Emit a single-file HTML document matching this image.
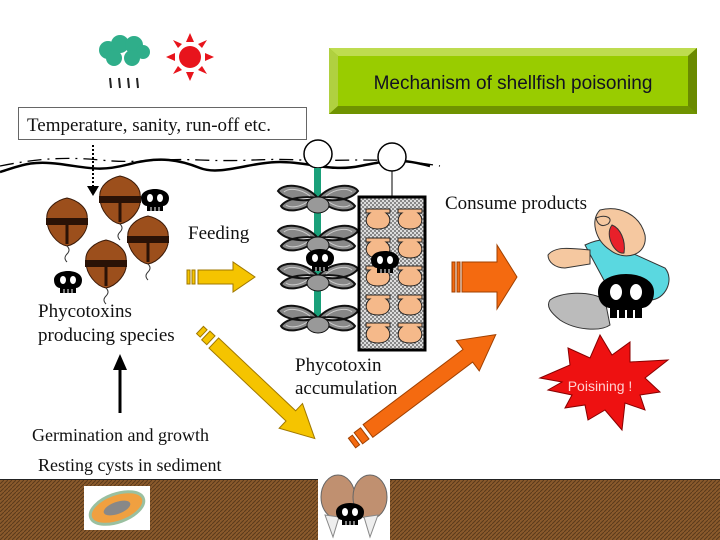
<!DOCTYPE html>
<html><head><meta charset="utf-8"><style>
html,body{margin:0;padding:0;background:#fff;}
svg{display:block;}
.s{font-family:"Liberation Serif",serif;fill:#111;}
</style></head><body>
<svg width="720" height="540" viewBox="0 0 720 540" xmlns="http://www.w3.org/2000/svg">
<defs>
<pattern id="sed" width="4" height="4" patternUnits="userSpaceOnUse">
<rect width="4" height="4" fill="#8a5a2c"/><path d="M0 4L4 0" stroke="#5a3a1a" stroke-width="1"/>
</pattern>
<pattern id="chk" width="4" height="4" patternUnits="userSpaceOnUse">
<rect width="4" height="4" fill="#ddd"/><rect width="2" height="2" fill="#888"/><rect x="2" y="2" width="2" height="2" fill="#888"/>
</pattern>
<g id="skull">
<path d="M-14 0 C-14 -12 14 -12 14 0 C14 6 10 8 8 8 L8 13 L-8 13 L-8 8 C-10 8 -14 6 -14 0Z" fill="#000"/>
<ellipse cx="-5" cy="0" rx="3" ry="4" fill="#fff"/><ellipse cx="5" cy="0" rx="3" ry="4" fill="#fff"/>
<path d="M-4 9v4M0 9v4M4 9v4" stroke="#fff" stroke-width="1"/>
</g>
<g id="cell">
<path d="M-20 -2 C-22 -14 -10 -22 0 -24 C10 -22 22 -14 20 -2 C22 10 10 22 0 24 C-10 22 -20 10 -20 -2Z" fill="#9c4f1c" stroke="#3a1a08"/>
<rect x="-21" y="-4" width="42" height="7" fill="#2a1206"/>
<path d="M0 3 L0 22" stroke="#2a1206" stroke-width="3"/>
<path d="M0 24 q4 4 0 8 q-4 4 0 8" stroke="#333" fill="none"/>
</g>
<g id="mus">
<path d="M0 0 C-15 -16 -36 -14 -40 -7 C-32 3 -12 4 0 0Z M0 0 C15 -16 36 -14 40 -7 C32 3 12 4 0 0Z M0 0 C-15 16 -34 14 -37 8 C-30 -1 -12 -2 0 0Z M0 0 C15 16 34 14 37 8 C30 -1 12 -2 0 0Z" fill="#888" stroke="#111" stroke-width="2"/>
<path d="M-8 -2 C-18 -10 -30 -10 -34 -6 M8 -2 C18 -10 30 -10 34 -6 M-8 2 C-18 10 -28 10 -32 7 M8 2 C18 10 28 10 32 7" stroke="#ccc" fill="none"/>
<ellipse cx="0" cy="7" rx="11" ry="8" fill="#999" stroke="#111"/>
</g>
<g id="sc"><path d="M-12 -9 h24 v4 h-4 c6 4 6 16 -8 16 c-14 0 -14 -12 -8 -16 h-4Z" fill="#f5b98a" stroke="#222"/></g>
</defs>

<g fill="#2fae8a"><circle cx="108" cy="50" r="9"/><circle cx="120" cy="44" r="9"/><circle cx="134" cy="45" r="9"/><circle cx="143" cy="52" r="7"/><circle cx="114" cy="58" r="8"/><circle cx="132" cy="58" r="8"/></g>
<path d="M110 78l1 10M119 78l1 10M128 78l1 10M137 78l1 10" stroke="#222" stroke-width="2"/>
<g fill="#e8141c"><circle cx="190" cy="57" r="11"/>
<path d="M190 33l4 9h-8zM190 81l4-9h-8zM166 57l9 4v-8zM214 57l-9 4v-8zM173 40l9 4-4 4zM207 40l-9 4 4 4zM173 74l9-4-4-4zM207 74l-9-4 4-4z"/></g>

<rect x="329" y="48" width="368" height="66" fill="#8ab000"/>
<path d="M329 48h368l-9 8H338z" fill="#bedc50"/><path d="M329 48v66l9-8V56z" fill="#b0d040"/>
<path d="M697 48v66l-9-8V56z" fill="#6a8a00"/><path d="M329 114h368l-9-8H338z" fill="#6f9300"/>
<rect x="338" y="56" width="350" height="50" fill="#99cc00"/>
<text x="513" y="89" text-anchor="middle" font-family="Liberation Sans, sans-serif" font-size="19" fill="#112">Mechanism of shellfish poisoning</text>

<rect x="18.5" y="107.5" width="288" height="32" fill="#fff" stroke="#666"/>
<text x="27" y="131" class="s" font-size="19">Temperature, sanity, run-off etc.</text>

<path d="M0 172 C20 166 30 160 60 164 S100 172 130 164 S180 160 200 168 S250 162 280 162 S330 172 360 166 S400 158 430 166" stroke="#000" stroke-width="2.5" fill="none"/>
<path d="M0 166 C30 160 60 156 100 160 S150 158 200 160 S260 158 300 160 S380 156 440 166" stroke="#000" stroke-width="1.3" fill="none" stroke-dasharray="14 6 2 6"/>
<path d="M93 145v42" stroke="#000" stroke-width="2" stroke-dasharray="2 2"/><path d="M87 186h12l-6 10z"/>

<use href="#cell" x="67" y="222"/><use href="#cell" x="120" y="200"/><use href="#cell" x="148" y="240"/><use href="#cell" x="106" y="264"/>
<use href="#skull" x="155" y="198"/><use href="#skull" x="68" y="280"/>
<text x="188" y="239" class="s" font-size="19">Feeding</text>
<text x="38" y="317" class="s" font-size="19">Phycotoxins</text>
<text x="38" y="341" class="s" font-size="19">producing species</text>

<g fill="#f5c400" stroke="#a07800"><rect x="187" y="270" width="3" height="14"/><rect x="192" y="270" width="3" height="14"/><path d="M198 270h35v-8l22 15-22 15v-8h-35z"/></g>

<circle cx="318" cy="154" r="14" fill="#fff" stroke="#000" stroke-width="1.5"/>
<circle cx="392" cy="157" r="14" fill="#fff" stroke="#000" stroke-width="1.5"/>
<rect x="314" y="168" width="7" height="165" fill="#1aa07a"/>
<use href="#mus" x="318" y="198"/><use href="#mus" x="318" y="238"/><use href="#mus" x="318" y="276"/><use href="#mus" x="318" y="318"/>
<use href="#skull" x="320" y="258"/>
<path d="M392 171v25" stroke="#000"/>
<rect x="359" y="197" width="66" height="153" fill="url(#chk)" stroke="#000" stroke-width="3"/>
<use href="#sc" x="378" y="218"/><use href="#sc" x="410" y="218"/><use href="#sc" x="378" y="247"/><use href="#sc" x="410" y="247"/><use href="#sc" x="378" y="275"/><use href="#sc" x="410" y="275"/><use href="#sc" x="378" y="304"/><use href="#sc" x="410" y="304"/><use href="#sc" x="378" y="332"/><use href="#sc" x="410" y="332"/>
<use href="#skull" x="385" y="260"/>
<text x="295" y="371" class="s" font-size="19">Phycotoxin</text>
<text x="295" y="394" class="s" font-size="19">accumulation</text>

<text x="445" y="209" class="s" font-size="19">Consume products</text>
<g fill="#f46a10" stroke="#a04000"><rect x="452" y="262" width="3" height="30"/><rect x="457" y="262" width="3" height="30"/><path d="M462 262h35v-17l20 32-20 32v-17h-35z"/></g>

<path d="M585 245 C600 238 615 236 625 250 L665 268 C675 280 665 300 650 300 L620 310 Z" fill="#5ad8e0" stroke="#333"/>
<path d="M548 255 C555 246 570 248 590 250 L590 264 L565 268 C555 268 548 262 548 255Z" fill="#f5c8a0" stroke="#333"/>
<path d="M600 210 C620 205 640 215 645 235 C648 255 625 262 610 250 C595 240 590 220 600 210Z" fill="#f5c8a0" stroke="#333"/>
<path d="M596 218 c10-4 18 0 12 6 c-5 3-10 2-12-6z" fill="#f5c8a0" stroke="#333"/>
<path d="M612 225 C604 235 615 255 624 253 C626 240 620 228 612 225Z" fill="#e8202a" stroke="#333"/>
<path d="M550 300 C560 292 590 290 605 300 L610 325 C600 332 575 330 560 320 C550 312 546 306 550 300Z" fill="#bbb" stroke="#333"/>
<use href="#skull" x="626" y="292" transform="translate(626 292) scale(2) translate(-626 -292)"/>

<path d="M540 378 L570 365 L568 348 L590 358 L600 335 L612 355 L630 342 L630 362 L668 360 L645 378 L660 392 L640 395 L645 410 L625 403 L622 430 L605 410 L588 420 L585 405 L565 408 L572 395 L548 390 L562 382Z" fill="#ee1111" stroke="#880000"/>
<text x="600" y="391" text-anchor="middle" font-family="Liberation Sans, sans-serif" font-size="14" fill="#ffd0d0">Poisining !</text>

<path d="M120 413V368" stroke="#000" stroke-width="3"/><path d="M113 370h14l-7-16z"/>

<!-- yellow diagonal arrow -->
<g transform="translate(200 330) rotate(43.4)" fill="#f5c400" stroke="#a07800">
<rect x="0" y="-5" width="5" height="10"/><rect x="8" y="-6" width="7" height="12"/>
<path d="M19 -7 H125 V-17 L158 0 L125 17 V7 H19Z"/>
</g>
<!-- orange diagonal arrow -->
<g transform="translate(352 443) rotate(-37)" fill="#f46a10" stroke="#a04000">
<rect x="0" y="-6" width="5" height="12"/><rect x="8" y="-7" width="8" height="14"/>
<path d="M20 -8 H145 V-19 L180 0 L145 19 V8 H20Z"/>
</g>

<text x="32" y="441" class="s" font-size="18">Germination and growth</text>
<text x="38" y="471" class="s" font-size="18">Resting cysts in sediment</text>

<rect x="0" y="479" width="720" height="61" fill="url(#sed)"/>
<path d="M0 479.5h720" stroke="#222"/>
<rect x="84" y="486" width="66" height="44" fill="#fff"/>
<ellipse cx="117" cy="508" rx="28" ry="14" fill="#f0a040" stroke="#9ac0a0" stroke-width="3" transform="rotate(-20 117 508)"/>
<ellipse cx="117" cy="508" rx="14" ry="6" fill="#888" transform="rotate(-20 117 508)"/>
<rect x="318" y="479" width="72" height="61" fill="#fff"/>
<ellipse cx="338" cy="497" rx="17" ry="22" fill="#c09070" stroke="#666"/>
<ellipse cx="370" cy="497" rx="17" ry="22" fill="#c09070" stroke="#666"/>
<path d="M325 515l8 22 6-20zM378 515l-8 22-6-20z" fill="#eee" stroke="#888"/>
<use href="#skull" x="350" y="512"/>
</svg>
</body></html>
